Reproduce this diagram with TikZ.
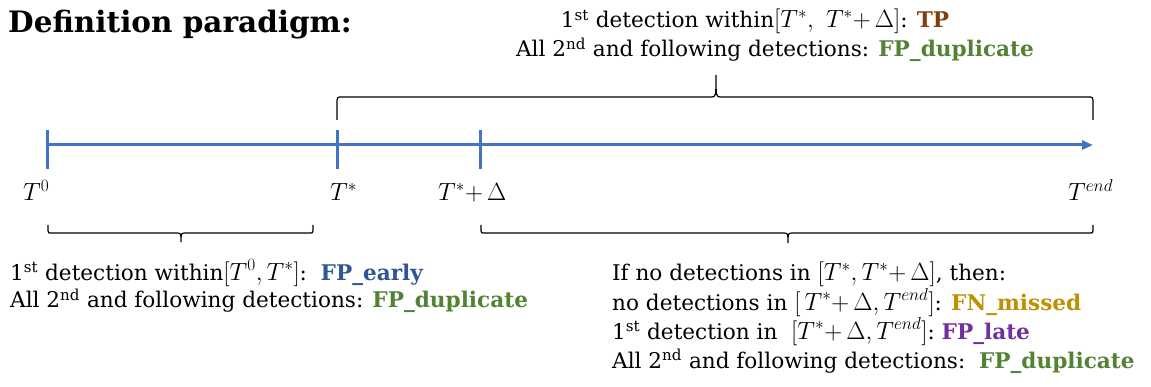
\documentclass[tikz,border=0pt]{standalone}
\usepackage{fontspec}
\setmainfont{DejaVu Serif}
\usetikzlibrary{arrows.meta}

\definecolor{axisblue}{HTML}{4472C4}
\definecolor{tpbrown}{HTML}{843C0C}
\definecolor{dupgreen}{HTML}{548235}
\definecolor{earlyblue}{HTML}{2F5597}
\definecolor{missgold}{HTML}{BF9000}
\definecolor{latepurple}{HTML}{7030A0}

\tikzset{
  txt/.style={inner sep=0pt,anchor=base west,font=\fontsize{21.6}{25}\selectfont},
  tlabel/.style={inner sep=0pt,anchor=base west,font=\fontsize{24}{28}\selectfont},
  axis/.style={axisblue,line width=3pt},
  curly/.style={black,line width=1.2pt},
}

% interval in the running text, a bit larger than the text
\newcommand{\ival}[1]{{\fontsize{25}{28}\selectfont$#1$}}

% curly brace: left x, tip x, right x, end y, line y, tip y
\newcommand{\curly}[6]{%
  \draw[curly] (#1,#4) -- (#1,{#5+0.3*((#4)-(#5))})
    .. controls (#1,#5) .. ({#1+5},#5) -- ({#2-5},#5)
    .. controls (#2,#5) .. (#2,#6)
    .. controls (#2,#5) .. ({#2+5},#5) -- ({#3-5},#5)
    .. controls (#3,#5) .. (#3,{#5+0.3*((#4)-(#5))}) -- (#3,#4);
}

\begin{document}
\begin{tikzpicture}[x=1pt,y=-1pt]
  \useasboundingbox (0,0) rectangle (1151,387);

  \node[inner sep=0pt,anchor=base west,font=\fontsize{29.5}{34}\selectfont\bfseries]
    (title) at (8,33) {Definition paradigm:};

  % time axis
  \coordinate (t0) at (47,145);
  \coordinate (ts) at (337,145);
  \coordinate (td) at (480,145);
  \coordinate (tend) at (1093,145);
  \draw[axis,-{Triangle[length=11pt,width=9pt]}] (t0) -- (tend);
  \foreach \t in {t0,ts,td}
    \draw[axis] ([yshift=15pt]\t) -- ([yshift=-24pt]\t);

  \node[tlabel] (l0) at (23,201) {$T^0$};
  \node[tlabel] (ls) at (330,201) {$T^*$};
  \node[tlabel] (ld) at (438,201) {$T^*{+}\,\Delta$};
  \node[tlabel] (lend) at (1068,201) {$T^{end}$};

  % braces
  \curly{337}{716}{1093}{120}{97}{75}
  \curly{48}{181}{313}{225}{233}{242}
  \curly{481}{788}{1093}{225}{233}{243}

  % window [T*, T*+D]
  \node[txt,anchor=base] (tp) at (755,28)
    {1\textsuperscript{st} detection within\ival{[T^*,\ T^*{+}\,\Delta]}: \textcolor{tpbrown}{\bfseries TP}};
  \node[txt,anchor=base] (dup1) at (775,57)
    {All 2\textsuperscript{nd} and following detections: \textcolor{dupgreen}{\bfseries FP\_duplicate}};

  % window [T0, T*]
  \node[txt] (early) at (10,280)
    {1\textsuperscript{st} detection within\ival{[T^0,T^*]}:\ \ \textcolor{earlyblue}{\bfseries FP\_early}};
  \node[txt] (dup2) at (10,308)
    {All 2\textsuperscript{nd} and following detections: \textcolor{dupgreen}{\bfseries FP\_duplicate}};

  % window [T*+D, Tend]
  \node[txt] (ifno) at (612,281)
    {If no detections in \ival{[T^*,T^*{+}\,\Delta]}, then:};
  \node[txt] (missed) at (612,310)
    {no detections in \ival{[\,T^*{+}\,\Delta,T^{end}]}: \textcolor{missgold}{\bfseries FN\_missed}};
  \node[txt] (late) at (612,339)
    {1\textsuperscript{st} detection in\ \ \ival{[T^*{+}\,\Delta,T^{end}]}:\ \textcolor{latepurple}{\bfseries FP\_late}};
  \node[txt] (dup3) at (612,368)
    {All 2\textsuperscript{nd} and following detections:\ \ \textcolor{dupgreen}{\bfseries FP\_duplicate}};
\end{tikzpicture}
\end{document}
